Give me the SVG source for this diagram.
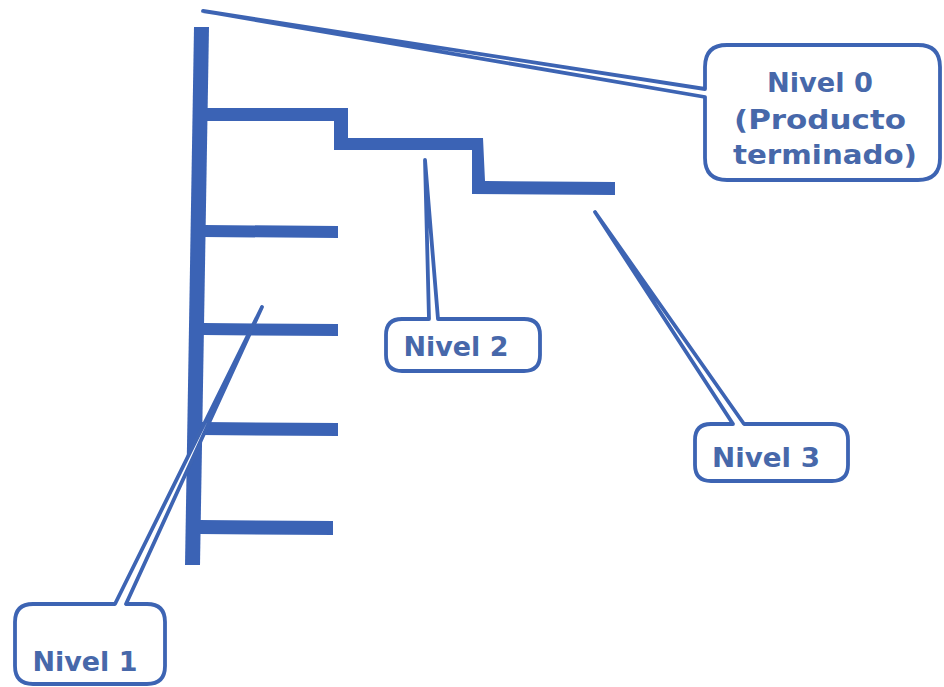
<svg xmlns="http://www.w3.org/2000/svg" width="944" height="687" viewBox="0 0 944 687">
<style>
.bar{fill:#3b63b5;stroke:none}
.callout{fill:#ffffff;stroke:#3d64b3;stroke-width:3.8;stroke-linejoin:round}
.lbl{font-family:"DejaVu Sans",Verdana,sans-serif;font-weight:bold;font-size:27px;fill:#4768aa;text-anchor:middle}
</style>
<rect width="944" height="687" fill="#ffffff"/>
<g id="structure">
<polygon class="bar" points="194,27 209,27 200,565 185,565"/>
<polygon class="bar" points="206,108 348,108 348,138 483,138 485,181 615,182 615,195 472,194 472,150 334,150 334,121 206,121"/>
<polygon class="bar" points="204,225 338,226 338,238 204,237"/>
<polygon class="bar" points="203,323 338,324 338,336 203,335"/>
<polygon class="bar" points="201,422 338,423 338,436 201,435"/>
<polygon class="bar" points="199,520 333,521 333,535 199,534"/>
</g>
<g id="connectors">
</g>
<g id="nivel0">
<path class="callout" d="M705,89 L203,11 L705,97 L705,158 Q705,180 727,180 L918,180 Q940,180 940,158 L940,67 Q940,45 918,45 L727,45 Q705,45 705,67 Z"/>
<text class="lbl" x="820" y="92" textLength="106" lengthAdjust="spacingAndGlyphs">Nivel 0</text>
<text class="lbl" x="820" y="129" textLength="172" lengthAdjust="spacingAndGlyphs">(Producto</text>
<text class="lbl" x="825" y="164" textLength="184" lengthAdjust="spacingAndGlyphs">terminado)</text>
</g>
<g id="nivel2">
<path class="callout" d="M429,319 L425,160 L438,319 L524,319 Q540,319 540,335 L540,355 Q540,371 524,371 L402,371 Q386,371 386,355 L386,335 Q386,319 402,319 Z"/>
<text class="lbl" x="456" y="356" textLength="105" lengthAdjust="spacingAndGlyphs">Nivel 2</text>
</g>
<g id="nivel3">
<path class="callout" d="M733,424 L595,212 L744,424 L832,424 Q848,424 848,440 L848,465 Q848,481 832,481 L711,481 Q695,481 695,465 L695,440 Q695,424 711,424 Z"/>
<text class="lbl" x="766" y="467" textLength="108" lengthAdjust="spacingAndGlyphs">Nivel 3</text>
</g>
<g id="nivel1">
<path class="callout" d="M115,604 L262,307 L126,604 L147,604 Q165,604 165,622 L165,666 Q165,684 147,684 L33,684 Q15,684 15,666 L15,622 Q15,604 33,604 Z"/>
<text class="lbl" x="85" y="671" textLength="105" lengthAdjust="spacingAndGlyphs">Nivel 1</text>
</g>
</svg>
